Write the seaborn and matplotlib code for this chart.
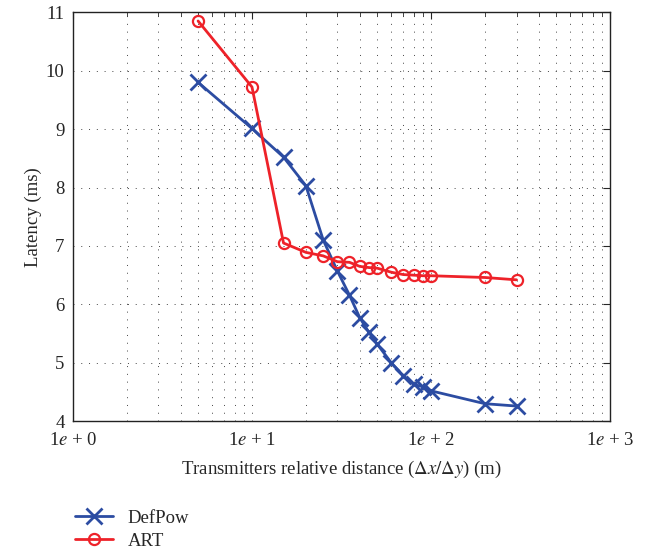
import matplotlib
matplotlib.use("Agg")
import matplotlib.pyplot as plt
import seaborn as sb
import numpy as np
from matplotlib.ticker import FixedLocator, LogLocator, NullFormatter

# distances (m) and latency (ms)
dist = [5, 10, 15, 20, 25, 30, 35, 40, 45, 50, 60, 70, 80, 90, 100, 200, 300]
defpow = [9.8, 9.01, 8.52, 8.03, 7.1, 6.57, 6.16, 5.77, 5.52, 5.32,
          5.0, 4.78, 4.63, 4.59, 4.52, 4.3, 4.26]
art = [10.85, 9.72, 7.05, 6.89, 6.83, 6.73, 6.72, 6.65, 6.63, 6.62,
       6.55, 6.51, 6.5, 6.49, 6.49, 6.46, 6.42]
xtick_vals = [1, 10, 100, 1000]
xtick_labels = ["1$e$ + 0", "1$e$ + 1", "1$e$ + 2", "1$e$ + 3"]

sb.set_style("white")
plt.rcParams["font.family"] = ["Liberation Serif", "DejaVu Serif"]
plt.rcParams["mathtext.fontset"] = "stix"

blue = "#2c4ca2"
red = "#ee2229"

fig = plt.figure(figsize=(6.45, 5.55), dpi=100)
ax = fig.add_axes([0.113, 0.241, 0.833, 0.737])

sb.lineplot(x=dist, y=defpow, ax=ax, color=blue, lw=2, marker="x",
            markersize=11, markeredgewidth=2, markeredgecolor=blue,
            label="DefPow")
sb.lineplot(x=dist, y=art, ax=ax, color=red, lw=2, marker="o",
            markersize=8, markeredgewidth=1.6, markerfacecolor="none",
            markeredgecolor=red, label="ART")

ax.set_xscale("log")
ax.set_xlim(1, 1000)
ax.set_ylim(4, 11)
ax.xaxis.set_major_locator(FixedLocator(xtick_vals))
ax.set_xticklabels(xtick_labels)
ax.xaxis.set_minor_locator(LogLocator(base=10, subs=np.arange(2, 10)))
ax.xaxis.set_minor_formatter(NullFormatter())
ax.set_yticks(range(4, 12))

dots = (0, (1, 7))
ax.grid(True, which="both", axis="x", color="#444444", lw=0.7, linestyle=dots)
ax.grid(True, which="major", axis="y", color="#444444", lw=0.7, linestyle=dots)

ax.tick_params(which="both", direction="in", top=True, right=True,
               labelsize=13.5)
ax.tick_params(axis="x", pad=8)
ax.tick_params(axis="y", pad=6)
ax.tick_params(which="major", length=5, width=0.8)
ax.tick_params(which="minor", length=3, width=0.6)
for s in ax.spines.values():
    s.set_color("#222222")
    s.set_linewidth(1.0)

ax.set_xlabel(r"Transmitters relative distance ($\Delta x/\Delta y$) (m)",
              fontsize=13.5, labelpad=7)
ax.set_ylabel("Latency (ms)", fontsize=13.5, labelpad=3)

h, l = ax.get_legend_handles_labels()
ax.get_legend().remove()
fig.legend(h, l, loc="upper left", bbox_to_anchor=(0.105, 0.095),
           frameon=False, fontsize=13.5, handlelength=2.0, labelspacing=0.3,
           borderaxespad=0)

fig.savefig("out.png", dpi=100)
